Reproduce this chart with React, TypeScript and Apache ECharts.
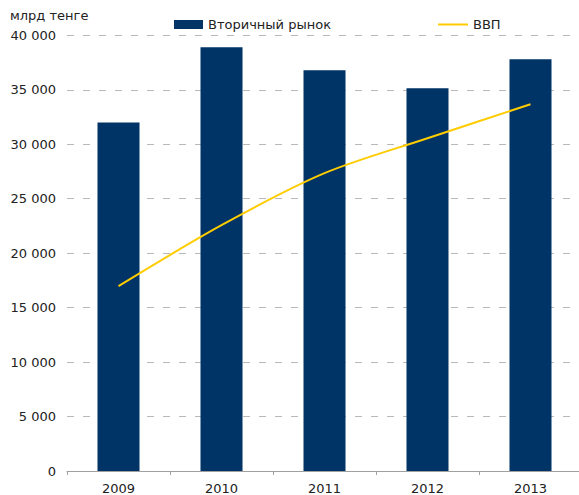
import React, { useEffect, useRef } from "react";
import * as echarts from "echarts";

const categories = ["2009", "2010", "2011", "2012", "2013"];
const secondaryMarket = [32000, 38900, 36800, 35150, 37800];
const gdp = [16970, 22570, 27340, 30550, 33670];
const unitLabel = "млрд тенге";
const barName = "Вторичный рынок";
const lineName = "ВВП";

const FONT = "DejaVu Sans, Verdana, sans-serif";

export default function App() {
  const ref = useRef<HTMLDivElement>(null);
  useEffect(() => {
    if (!ref.current) return;
    const chart = echarts.init(ref.current, undefined, { renderer: "svg" });
    chart.setOption({
      animation: false,
      backgroundColor: "#ffffff",
      textStyle: { fontFamily: FONT },
      graphic: [
        {
          type: "text",
          left: 10,
          top: 9,
          style: { text: unitLabel, font: `13px ${FONT}`, fill: "#222222" },
        },
      ],
      legend: [
        {
          data: [barName],
          left: 169,
          top: 13,
          itemWidth: 29,
          itemHeight: 9,
          icon: "rect",
          textStyle: { fontSize: 13, color: "#222222", fontFamily: FONT },
          selectedMode: false,
        },
        {
          data: [{ name: lineName, icon: "rect" }],
          left: 433,
          top: 13,
          itemWidth: 30,
          itemHeight: 2,
          textStyle: { fontSize: 13, color: "#222222", fontFamily: FONT },
          selectedMode: false,
        },
      ],
      grid: { left: 67, right: 3, top: 35.3, bottom: 495 - 471.3, containLabel: false },
      xAxis: {
        type: "category",
        data: categories,
        boundaryGap: true,
        axisLine: { lineStyle: { color: "#a0a0a0", width: 1 } },
        axisTick: { show: true, length: 4, lineStyle: { color: "#a0a0a0" } },
        axisLabel: { fontSize: 13, color: "#222222", margin: 11, fontFamily: FONT },
      },
      yAxis: {
        type: "value",
        min: 0,
        max: 40000,
        interval: 5000,
        axisLine: { show: false },
        axisTick: { show: false },
        axisLabel: {
          fontSize: 13,
          color: "#222222",
          margin: 11,
          fontFamily: FONT,
          formatter: (v: number) => (v >= 1000 ? `${Math.floor(v / 1000)} ${String(v % 1000).padStart(3, "0")}` : String(v)),
        },
        splitLine: { lineStyle: { color: "#b8b8b8", type: [7, 9], width: 1 } },
      },
      series: [
        {
          name: barName,
          type: "bar",
          data: secondaryMarket,
          barWidth: 42,
          itemStyle: { color: "#003366" },
        },
        {
          name: lineName,
          type: "line",
          data: gdp,
          smooth: 0.3,
          symbol: "none",
          lineStyle: { color: "#FFCC00", width: 2 },
          itemStyle: { color: "#FFCC00" },
        },
      ],
    });
    return () => chart.dispose();
  }, []);
  return (
    <div style={{ position: "fixed", left: 0, top: 0, width: 579, height: 495, overflow: "hidden", background: "#fff" }}>
      <div ref={ref} style={{ width: 585, height: 495 }} />
    </div>
  );
}
